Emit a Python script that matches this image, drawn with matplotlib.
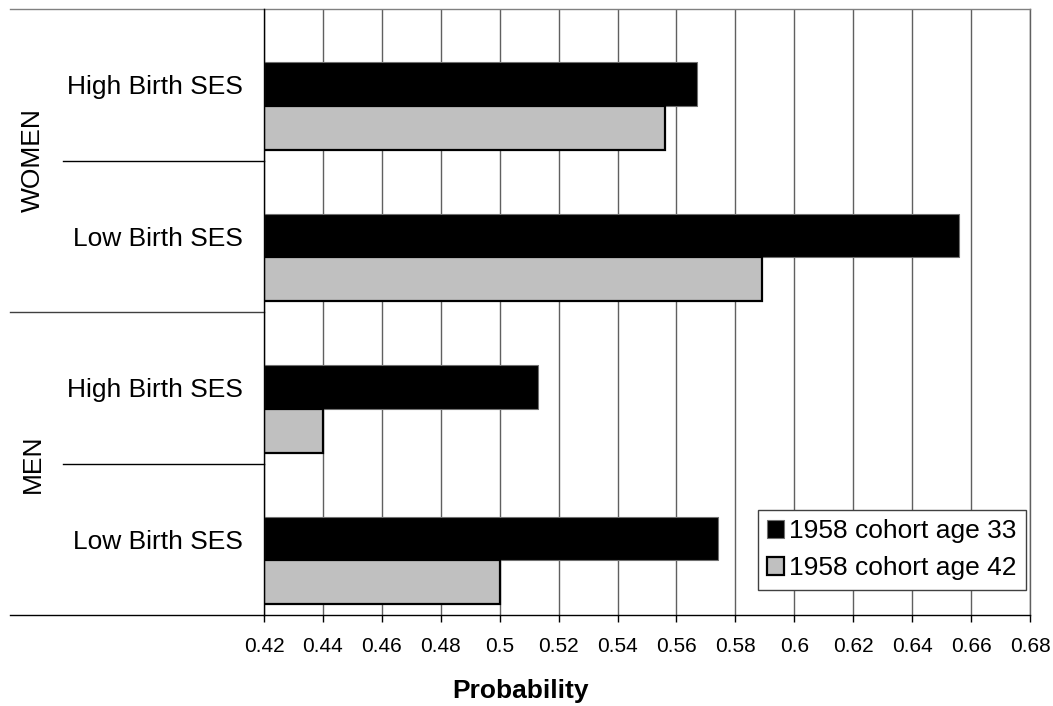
import matplotlib
matplotlib.use("Agg")
import matplotlib.pyplot as plt
import matplotlib.transforms as mtransforms
from matplotlib.patches import Patch

plt.rcParams['font.family'] = ['Liberation Sans', 'DejaVu Sans']

# ---- data ----
categories = ["High Birth SES", "Low Birth SES", "High Birth SES", "Low Birth SES"]
groups = ["WOMEN", "MEN"]
series_names = ["1958 cohort age 33", "1958 cohort age 42"]
age33 = [0.567, 0.656, 0.513, 0.574]
age42 = [0.556, 0.589, 0.440, 0.500]
xticks = [0.42, 0.44, 0.46, 0.48, 0.50, 0.52, 0.54, 0.56, 0.58, 0.60, 0.62, 0.64, 0.66, 0.68]
xtick_labels = ["0.42", "0.44", "0.46", "0.48", "0.5", "0.52", "0.54", "0.56", "0.58",
                "0.6", "0.62", "0.64", "0.66", "0.68"]
baseline = 0.42
xlabel = "Probability"

W, H = 1053, 706
fig = plt.figure(figsize=(W / 100, H / 100), dpi=100)
L, R, T, B = 264, 1030, 9, 615
ax = fig.add_axes([L / W, 1 - B / H, (R - L) / W, (B - T) / H])

n = len(categories)
pos = list(range(n))
bh = 0.29
ax.barh([p - 0.005 for p in pos], [v - baseline for v in age33], left=baseline, height=bh,
        color="black", edgecolor="#707070", linewidth=0.8, zorder=3)
ax.barh([p + 0.285 for p in pos], [v - baseline for v in age42], left=baseline, height=bh,
        color="#C0C0C0", edgecolor="black", linewidth=1.6, zorder=3)

ax.set_xlim(xticks[0], xticks[-1])
ax.set_ylim(n - 0.5, -0.5)
ax.set_xticks(xticks)
ax.set_xticklabels(xtick_labels, fontsize=15)
ax.set_yticks(pos)
ax.set_yticklabels(categories, fontsize=19)
ax.tick_params(axis='y', length=0, pad=15)
ax.tick_params(axis='x', length=5, width=1, color='black', pad=11)
ax.grid(axis='x', color='#606060', linewidth=1, zorder=1)
ax.set_axisbelow(True)

ax.spines['left'].set_color('black')
ax.spines['bottom'].set_color('black')
ax.spines['top'].set_color('#808080')
ax.spines['right'].set_color('#606060')
for s in ax.spines.values():
    s.set_linewidth(1)
ax.spines['left'].set_zorder(4)

# lines extending to the left of the plot area
trans = mtransforms.blended_transform_factory(ax.transAxes, ax.transData)
x_far = (10 - L) / (R - L)
x_near = (63 - L) / (R - L)
ax.plot([x_far, 0], [-0.5, -0.5], transform=trans, color='#808080', lw=1, clip_on=False)
ax.plot([x_far, 0], [1.5, 1.5], transform=trans, color='#404040', lw=1, clip_on=False)
ax.plot([x_far, 0], [n - 0.5, n - 0.5], transform=trans, color='black', lw=1, clip_on=False)
ax.plot([x_near, 0], [0.5, 0.5], transform=trans, color='black', lw=1, clip_on=False)
ax.plot([x_near, 0], [2.5, 2.5], transform=trans, color='black', lw=1, clip_on=False)

# group labels
x_grp = (33 - L) / (R - L)
for gi, g in enumerate(groups):
    ax.text(x_grp, 2 * gi + 0.5, g, transform=trans, rotation=90, ha='center', va='center',
            fontsize=19)

fig.text(521 / W, 1 - 691 / H, xlabel, ha='center', va='center', fontsize=19, fontweight='bold')

handles = [Patch(facecolor='black', edgecolor='#707070', linewidth=0.8),
           Patch(facecolor='#C0C0C0', edgecolor='black', linewidth=1.6)]
leg = ax.legend(handles, series_names, loc='upper right',
                bbox_to_anchor=((1026 - L) / (R - L), (B - 510) / (B - T)),
                borderaxespad=0, fontsize=19, frameon=True, fancybox=False,
                handlelength=0.65, handleheight=0.65, handletextpad=0.2,
                labelspacing=0.5, borderpad=0.35)
leg.get_frame().set_edgecolor('#404040')
leg.get_frame().set_linewidth(1)
leg.get_frame().set_alpha(1)
leg.set_zorder(5)

fig.savefig("out.png", dpi=100)
